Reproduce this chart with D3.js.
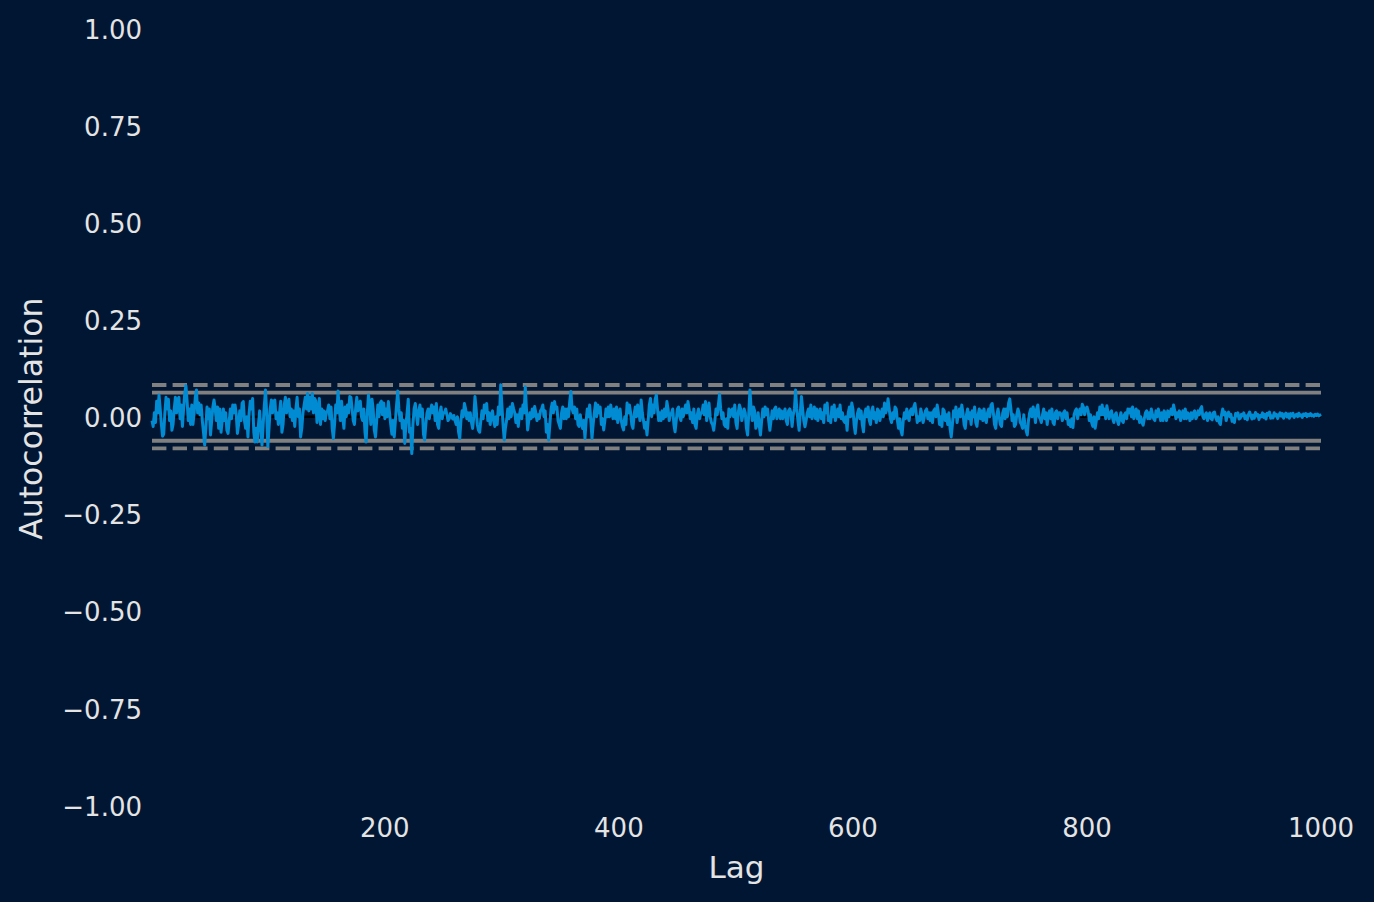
<!DOCTYPE html>
<html>
<head>
<meta charset="utf-8">
<script src="https://cdn.jsdelivr.net/npm/d3@7"></script>
<style>
  html, body { margin: 0; padding: 0; background: #001633; }
  svg { display: block; }
</style>
</head>
<body>
<svg id="chart" width="1374" height="902"></svg>
<script>
// ---- data (autocorrelation values, lag 1..1000) ----
const acfSeg1 = [ // lags 1-110
 -.01,-.025,.01,-.015,.04,.01,.056,.02,-.02,-.05,
 -.045,.01,.05,.02,.045,-.01,.015,-.035,-.02,.02,
 .05,.01,.045,.05,-.005,.03,-.025,.02,.06,.08,
 .04,-.01,.02,-.02,.03,-.02,.01,.05,.069,.01,
 .035,.005,.03,-.01,-.04,-.073,-.03,.025,-.005,.02,
 -.047,-.01,.025,.043,.02,-.01,.025,-.03,.02,-.04,
 -.01,.02,-.01,.01,-.035,-.043,-.01,.02,-.005,.03,
 .01,.03,.005,-.043,-.02,.015,-.01,.035,.039,-.01,
 -.03,0,-.052,.01,.04,.02,.047,-.04,-.065,-.03,
 -.065,-.02,.015,-.03,-.073,-.02,.03,.069,.01,-.077,
 -.03,.02,.043,.01,.04,.043,-.005,.01,-.02,.01
];
const acfSeg2 = [ // lags 111-221
 .04,-.04,-.02,.03,.05,.01,.035,.045,0,.02,
 -.01,.015,-.025,.02,.05,0,.02,-.052,-.03,.01,
 .03,.05,.02,.06,.015,.05,.02,.06,.01,.047,
 .04,-.015,.01,.047,-.02,.02,-.005,.015,-.01,.01,
 .015,.03,-.005,.025,-.03,-.056,-.02,.03,.01,.066,
 .02,-.01,.04,0,-.03,.025,0,.03,.01,.052,
 .05,.02,-.01,-.02,.02,.05,.015,.035,.04,0,
 -.01,.02,-.04,-.065,.01,.056,.03,-.02,.045,.02,
 -.035,-.052,-.01,.03,0,.035,.04,.005,.035,-.005,
 .02,0,.039,.01,-.02,-.045,-.01,-.052,-.01,.03,
 .066,.02,-.01,.01,-.03,-.01,-.069,-.02,.01,.045,-.04
];
const acfSeg3 = [ // lags 222-333
 -.03,-.095,-.02,.02,.034,.005,-.02,.015,.03,
 0,.02,-.045,-.06,-.02,.01,.02,-.005,.015,.03,
 .01,.025,-.01,.034,-.02,-.03,.01,.025,-.005,.01,
 .01,.02,.005,-.01,-.005,.008,.002,-.006,.003,-.01,
 -.02,0,-.04,-.056,-.01,.015,0,.034,.02,-.005,
 .01,-.01,.01,-.015,-.03,0,.052,.02,-.02,-.035,
 -.04,-.01,.015,-.005,.03,.01,.034,-.01,.01,-.02,
 .005,.015,-.01,-.025,0,-.02,.025,.005,.082,.03,
 -.02,-.06,-.03,-.01,.02,-.005,.025,0,.034,.02,
 .01,-.015,.005,-.025,.005,.02,-.005,.03,.01,.077,
 .02,-.034,-.01,.01,-.005,.02,0,.026,.01,-.01,.005,-.005,.015
];
const acfSeg4 = [ // lags 334-444
 .02,.03,0,.015,-.04,-.02,-.06,
 -.02,.02,.035,.01,.039,.02,.025,-.01,-.02,-.03,
 .01,.025,-.005,.02,-.005,.02,0,.04,.065,.02,
 .01,.025,-.005,.02,-.02,-.025,.005,-.015,-.03,-.01,
 -.056,-.01,.02,0,.03,-.01,-.056,-.02,.01,.035,
 0,.03,.01,.025,-.02,-.005,-.034,-.01,.02,0,
 .025,0,.03,.01,-.005,.02,-.005,.025,-.015,.01,
 .02,-.01,-.025,-.034,0,-.02,.035,.01,.03,.01,
 -.02,-.03,.005,.025,0,.03,.015,-.01,.043,.01,
 -.01,-.03,-.015,-.047,-.01,.03,.047,0,.03,.01,
 .045,.056,.02,-.01,.01,-.01,.015,-.005,.02,0,.039,.02,-.01,.005
];
const acfSeg5 = [ // lags 445-555
 .01,.02,-.02,-.039,-.01,.02,
 .025,0,-.01,.02,0,.015,.03,.01,.039,.02,
 -.005,.01,-.015,.02,-.02,-.03,.005,.02,-.005,.01,
 .01,.03,.005,.039,-.01,.015,.035,0,-.015,-.02,
 -.035,-.01,.02,.005,.03,.058,.02,-.005,.01,-.02,
 -.025,-.005,-.03,.02,0,.015,.02,0,.03,-.015,
 -.03,.01,.03,.02,-.01,.005,.02,.01,-.03,-.047,
 .01,.069,.02,-.01,.025,.015,-.03,-.02,.01,-.025,
 -.047,-.01,.02,0,.025,.005,.02,-.01,-.035,-.01,
 .015,-.005,.02,.025,-.005,.01,.02,-.005,.015,-.005,
 .01,.02,-.01,-.02,.015,.02,.01,-.025,.005,.02,
 .069,.02,-.01,-.035,.01
];
const acfSeg6 = [ // lags 556-666
 .052,.02,-.01,-.026,-.01,
 .01,.02,0,.03,-.005,.01,.025,-.005,.02,-.01,
 .01,.02,-.005,.01,-.015,.03,.01,.035,-.01,0,
 -.015,.025,0,.03,-.01,.005,.02,0,.03,-.005,
 .01,-.01,-.015,0,-.035,.01,.025,0,.035,.02,
 -.02,-.043,-.01,.01,.02,-.005,.015,-.02,-.039,.005,
 .02,0,.025,-.01,-.02,.015,.025,-.005,.01,-.015,
 .02,.015,-.01,.005,.02,0,.035,.01,.02,.046,
 .02,-.005,-.015,.01,-.005,.025,.02,-.01,-.03,-.005,
 -.035,-.047,-.01,.01,-.005,.02,0,-.01,.015,.02,
 .005,.025,.034,.01,-.015,0,-.01,.02,.005,-.015,0,.015,.02,-.005,.01,-.01
];
const acfSeg7 = [ // lags 667-777
 .01,-.015,.015,.02,
 0,.03,.01,-.02,0,-.025,.02,.015,-.01,.005,
 -.02,.01,-.03,-.052,-.02,.015,0,.025,-.015,.005,
 .02,0,.03,.01,-.02,-.03,.005,.02,-.005,.01,
 -.02,.015,0,.025,-.015,-.025,.005,.02,-.005,.015,
 -.01,.02,-.005,-.015,.01,.02,0,.03,.034,.01,
 -.02,-.03,.005,.02,0,-.02,-.025,.01,.02,-.005,
 .02,0,.035,.046,.02,-.01,.005,-.025,-.02,.005,
 .02,.01,-.015,-.02,-.03,.005,-.02,-.035,-.047,-.01,
 .01,.02,0,.025,.01,-.015,.02,.03,0,-.005,
 -.015,.005,.02,-.005,.01,-.02,.005,.015,-.005,.02,-.015,-.02,.01,.015,-.005,.01,.01
];
const acfSeg8 = [ // lags 778-888
 .005,-.01,.01,
 .015,-.005,.01,-.02,-.01,-.025,-.005,-.028,.005,.015,
 .02,-.005,.01,.02,.005,.032,.025,.005,.02,.025,
 .015,-.01,.005,-.015,-.025,0,-.03,-.01,.01,-.005,
 .025,.005,.03,.005,.02,-.005,.028,.01,-.005,.01,
 .015,-.005,-.015,.005,.01,-.01,-.02,-.005,.01,-.01,
 -.015,.005,.01,-.005,.02,.01,.02,0,.025,-.005,
 .01,.02,-.005,.015,-.015,0,-.015,-.022,-.005,.01,
 .015,-.005,.01,-.005,.02,.005,-.005,-.01,.015,0,
 .02,.005,-.01,.01,-.01,.015,.005,-.01,.015,0,
 .01,.02,.005,.03,.015,-.005,.01,0,.015,-.01,.005,.015,-.005,.02,-.005,.01,.005,-.01
];
const acfSeg9 = [ // lags 889-1000
 .01,-.005,.01,.015,-.005,0,.015,.005,.02,.026,0,-.005,
 .005,.01,-.01,.005,.01,-.005,-.008,.01,.012,-.002,
 -.01,0,-.015,-.02,.005,.02,.005,.012,-.01,.005,
 .012,0,.006,-.012,-.004,-.015,.008,.002,.01,-.006,
 -.004,.006,.002,.01,-.005,.002,-.008,.006,.012,.003,
 -.006,.004,-.004,.011,.002,.006,-.007,.003,0,.01,
 -.002,.006,-.006,.009,.004,.012,-.004,.002,-.003,.01,
 .002,.006,-.005,.004,.01,.001,.008,-.004,.005,.009,
 -.001,.007,-.004,.008,.002,.009,-.002,.003,.006,0,
 .009,.002,.005,-.002,.007,.003,.008,0,.006,.002,
 .008,.002,.005,.001,.006,.003,.007,.002,.004,.006
];
const acfValues = [].concat(acfSeg1, acfSeg2, acfSeg3, acfSeg4, acfSeg5,
                            acfSeg6, acfSeg7, acfSeg8, acfSeg9);
const nObs = 1000;
const z95 = 1.959963984540054;
const z99 = 2.5758293035489004;
const xTicks = [200, 400, 600, 800, 1000];
const yTicks = [-1, -0.75, -0.5, -0.25, 0, 0.25, 0.5, 0.75, 1];
const xLabel = "Lag";
const yLabel = "Autocorrelation";

// ---- drawing ----
const svg = d3.select("#chart");
const W = 1374, H = 902;
svg.append("rect").attr("width", W).attr("height", H).attr("fill", "#001633");

const x = d3.scaleLinear().domain([1, nObs]).range([152, 1321]);
const y = d3.scaleLinear().domain([-1, 1]).range([805.2, 28.2]);

const textColor = "#e4e4e4";
const fontFam = "'DejaVu Sans', sans-serif";

// y tick labels
const fmt = d => d3.format(".2f")(d).replace("-", "\u2212");
svg.append("g").selectAll("text").data(yTicks).join("text")
  .attr("x", 142).attr("y", d => y(d)).attr("dy", 10.5)
  .attr("text-anchor", "end")
  .attr("font-family", fontFam).attr("font-size", 26)
  .attr("fill", textColor)
  .text(fmt);

// x tick labels
svg.append("g").selectAll("text").data(xTicks).join("text")
  .attr("x", d => x(d)).attr("y", 836.5)
  .attr("text-anchor", "middle")
  .attr("font-family", fontFam).attr("font-size", 26)
  .attr("fill", textColor)
  .text(d => d3.format("d")(d));

// axis labels
svg.append("text")
  .attr("x", (x.range()[0] + x.range()[1]) / 2).attr("y", 878)
  .attr("text-anchor", "middle")
  .attr("font-family", fontFam).attr("font-size", 31)
  .attr("fill", textColor).text(xLabel);
svg.append("text")
  .attr("transform", `translate(42,${(y(1) + y(-1)) / 2 + 2}) rotate(-90)`)
  .attr("text-anchor", "middle")
  .attr("font-family", fontFam).attr("font-size", 31.5)
  .attr("fill", textColor).text(yLabel);

// confidence bands
const bands = [
  { v: z99 / Math.sqrt(nObs), dash: true },
  { v: z95 / Math.sqrt(nObs), dash: false },
  { v: -z95 / Math.sqrt(nObs), dash: false },
  { v: -z99 / Math.sqrt(nObs), dash: true }
];
svg.append("g").selectAll("line").data(bands).join("line")
  .attr("x1", x(1)).attr("x2", x(nObs))
  .attr("y1", d => y(d.v)).attr("y2", d => y(d.v))
  .attr("stroke", "#808080").attr("stroke-width", 3.9)
  .attr("stroke-dasharray", d => d.dash ? "14.4,6.2" : null);

// zero line (black)
svg.append("line")
  .attr("x1", x(1)).attr("x2", x(nObs))
  .attr("y1", y(0)).attr("y2", y(0))
  .attr("stroke", "#000000").attr("stroke-width", 2.6);

// autocorrelation line
const pts = acfValues.map((v, i) => [i + 1, v]);
svg.append("path").datum(pts)
  .attr("fill", "none").attr("stroke", "#008bd2")
  .attr("stroke-width", 3).attr("stroke-linejoin", "round")
  .attr("d", d3.line().x(d => x(d[0])).y(d => y(d[1])));
</script>
</body>
</html>
